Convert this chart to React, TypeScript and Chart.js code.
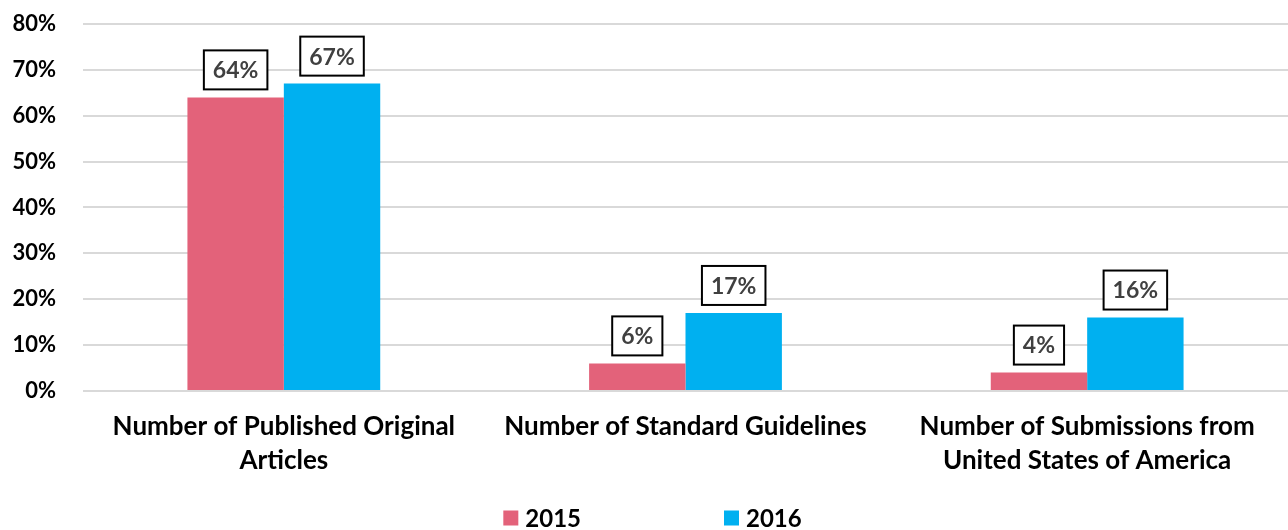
import React, { useEffect, useRef } from "react";
import { Chart, registerables } from "chart.js";

Chart.register(...registerables);

const categories: string[][] = [
  ["Number of Published Original", "Articles"],
  ["Number of Standard Guidelines"],
  ["Number of Submissions from", "United States of America"],
];
const seriesNames = ["2015", "2016"];
const values2015 = [64, 6, 4];
const values2016 = [67, 17, 16];
const seriesColors = ["#E3627A", "#00B0F0"];
const yTicks = [0, 10, 20, 30, 40, 50, 60, 70, 80];

const FONT = "Lato, 'Open Sans', sans-serif";

const boxLabelPlugin = {
  id: "boxLabels",
  afterDatasetsDraw(chart: any) {
    const ctx = chart.ctx;
    ctx.save();
    ctx.font = `bold 23px ${FONT}`;
    ctx.textAlign = "center";
    ctx.textBaseline = "middle";
    chart.data.datasets.forEach((ds: any, di: number) => {
      const meta = chart.getDatasetMeta(di);
      meta.data.forEach((bar: any, i: number) => {
        const text = `${ds.data[i]}%`;
        const w = ctx.measureText(text).width + 18;
        const h = 39;
        const x = bar.x - w / 2;
        const y = bar.y - 8 - h;
        ctx.fillStyle = "#ffffff";
        ctx.fillRect(x, y, w, h);
        ctx.strokeStyle = "#000000";
        ctx.lineWidth = 2;
        ctx.strokeRect(x, y, w, h);
        ctx.fillStyle = "#404040";
        ctx.fillText(text, bar.x, y + h / 2 + 1);
      });
    });
    ctx.restore();
  },
};

const legendPlugin = {
  id: "customLegend",
  afterDraw(chart: any) {
    const ctx = chart.ctx;
    ctx.save();
    ctx.font = `bold 24px ${FONT}`;
    ctx.textBaseline = "middle";
    ctx.textAlign = "left";
    const box = 15;
    const gapText = 7;
    const gapItems = 143;
    const widths = chart.data.datasets.map(
      (ds: any) => box + gapText + ctx.measureText(ds.label).width
    );
    const total = widths.reduce((a: number, b: number) => a + b, 0) + gapItems * (widths.length - 1);
    let x = chart.width / 2 + 8.5 - total / 2;
    const cy = 518;
    chart.data.datasets.forEach((ds: any, i: number) => {
      ctx.fillStyle = ds.backgroundColor;
      ctx.fillRect(x, cy - box / 2, box, box);
      ctx.fillStyle = "#000000";
      ctx.fillText(ds.label, x + box + gapText, cy + 1);
      x += widths[i] + gapItems;
    });
    ctx.restore();
  },
};

export default function App() {
  const canvasRef = useRef<HTMLCanvasElement | null>(null);

  useEffect(() => {
    document.body.style.margin = "0";
    const canvas = canvasRef.current;
    if (!canvas) return;
    const chart = new Chart(canvas, {
      type: "bar",
      data: {
        labels: categories,
        datasets: [
          {
            label: seriesNames[0],
            data: values2015,
            backgroundColor: seriesColors[0],
            categoryPercentage: 0.48,
            barPercentage: 1,
          },
          {
            label: seriesNames[1],
            data: values2016,
            backgroundColor: seriesColors[1],
            categoryPercentage: 0.48,
            barPercentage: 1,
          },
        ],
      },
      options: {
        animation: false,
        responsive: true,
        maintainAspectRatio: false,
        layout: { padding: { top: 24, right: 0, left: 0, bottom: 34 } },
        plugins: {
          legend: { display: false },
          tooltip: { enabled: false },
        },
        scales: {
          x: {
            grid: { display: false, drawTicks: false },
            border: { display: false },
            ticks: {
              color: "#000000",
              font: { family: FONT, size: 26, weight: "bold", lineHeight: 1.29 },
              padding: 19,
              maxRotation: 0,
              autoSkip: false,
            },
          },
          y: {
            min: 0,
            max: 80,
            afterBuildTicks(scale: any) {
              scale.ticks = yTicks.map((v) => ({ value: v }));
            },
            afterFit(scale: any) {
              scale.width = 83;
              scale.paddingTop = 0;
              scale.paddingBottom = 0;
            },
            grid: { color: "#D9D9D9", lineWidth: 2, drawTicks: false },
            border: { display: false },
            ticks: {
              color: "#000000",
              font: { family: FONT, size: 22, weight: "bold" },
              padding: 27,
              callback: (v: any) => `${v}%`,
            },
          },
        },
      },
      plugins: [boxLabelPlugin, legendPlugin],
    });
    return () => chart.destroy();
  }, []);

  return (
    <div style={{ position: "absolute", left: 0, top: 0, width: 1288, height: 530 }}>
      <canvas ref={canvasRef} />
    </div>
  );
}
